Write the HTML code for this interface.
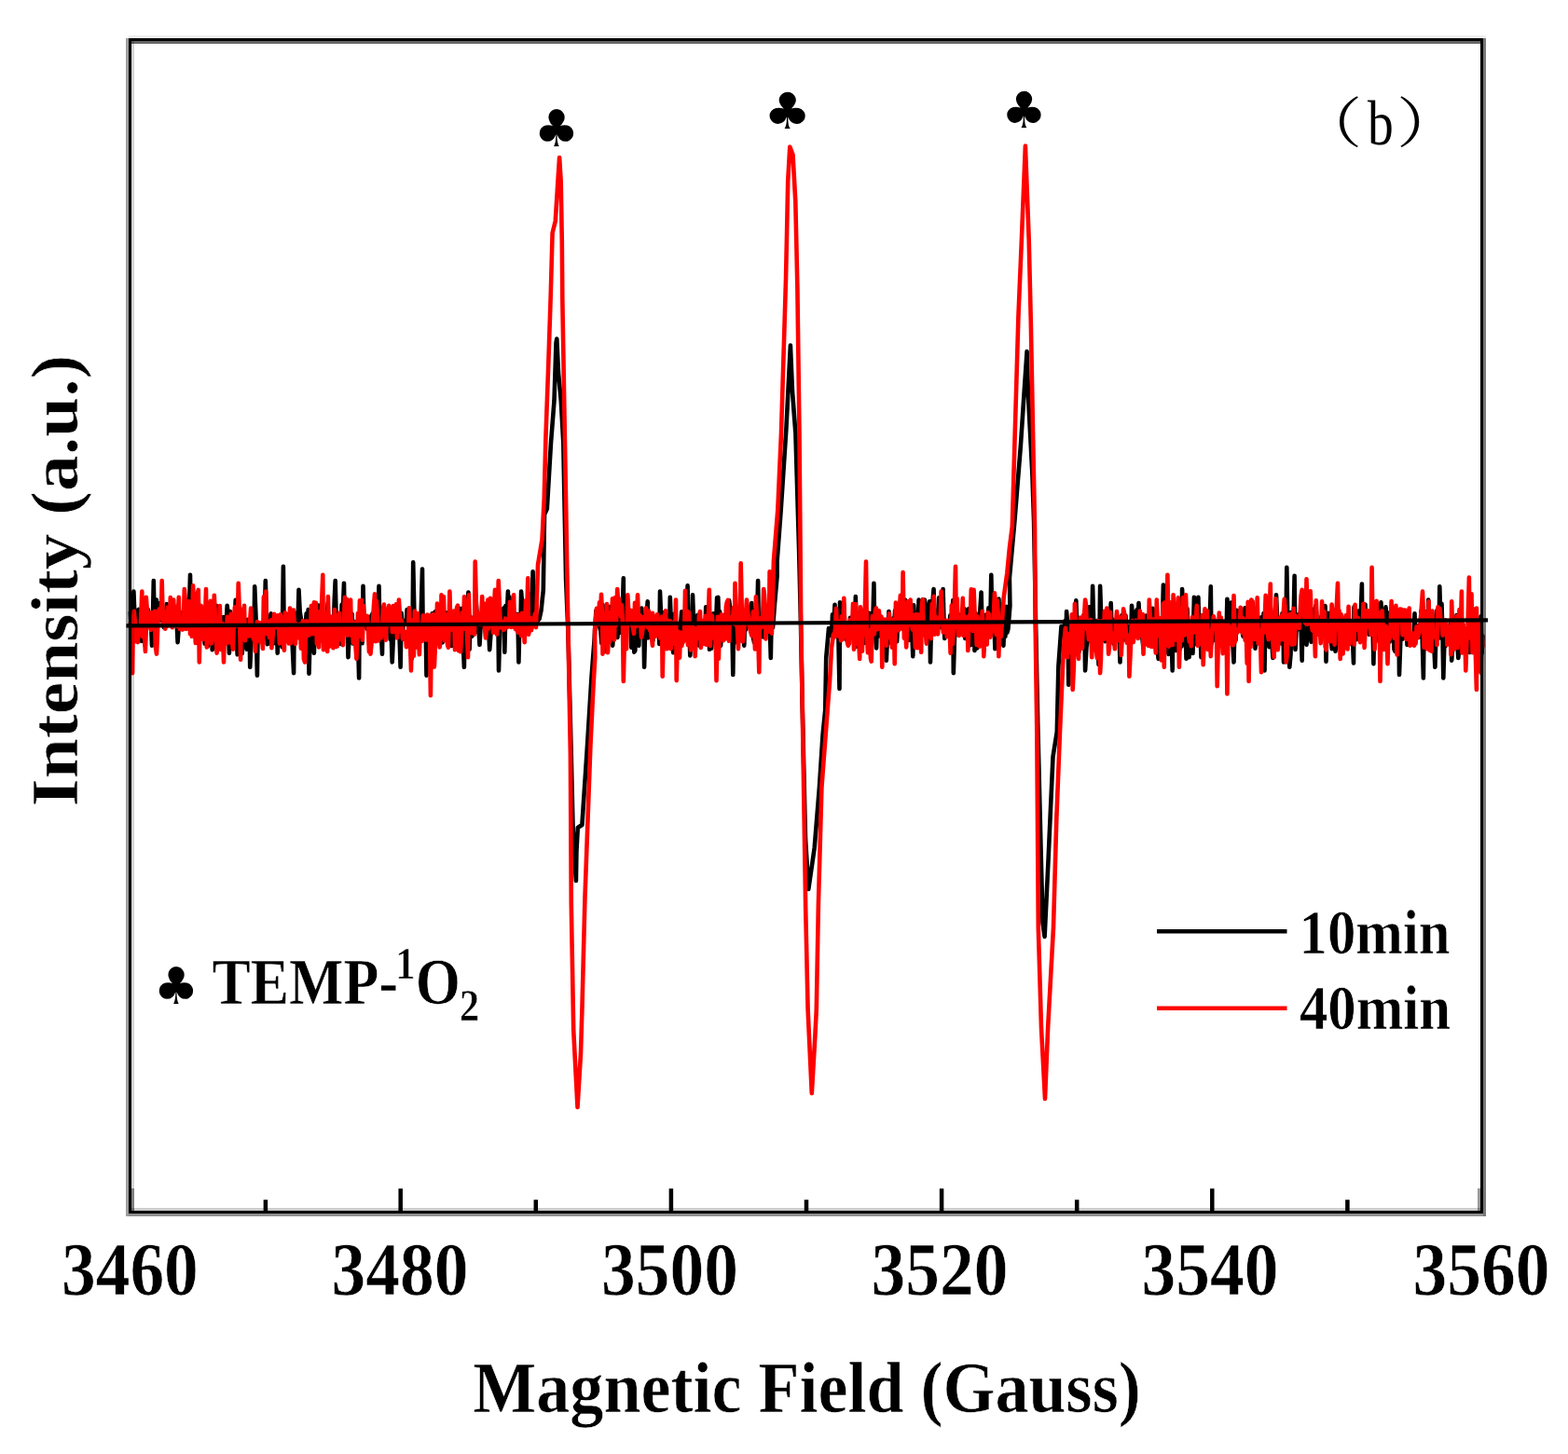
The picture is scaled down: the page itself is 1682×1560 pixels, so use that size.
<!DOCTYPE html>
<html lang="en">
<head>
<meta charset="utf-8">
<title>(b)</title>
<style>
html,body{margin:0;padding:0;background:#fff;overflow:hidden}
body{width:1682px;height:1560px}
svg{display:block}
text{font-family:"Liberation Serif",serif;font-weight:bold;fill:#000;stroke:#fff;stroke-width:0.6px}
.tk{font-size:80px;text-anchor:middle}
.sym{font-family:"DejaVu Sans","Liberation Serif",sans-serif;font-weight:normal;stroke:none}
.cjk{font-family:"Liberation Serif","Noto Serif CJK SC",serif;font-weight:normal;stroke:none}
.ax{stroke:#000;fill:none}
</style>
</head>
<body>
<svg width="1682" height="1560" viewBox="0 0 1682 1560">
<rect x="0" y="0" width="1682" height="1560" fill="#fff"/>
<!--CURVES-->
<g id="curves" fill="none" stroke-linejoin="round" stroke-linecap="butt">
<path id="c10" stroke="#000" stroke-width="4.6" d="M139.8,656.2 140.8,676.0 141.8,683.6 142.8,664.5 143.4,634.6 144.8,669.8 145.8,676.4 146.8,684.0 147.8,655.0 148.8,653.9 149.8,678.7 150.8,675.7 151.8,687.9 152.8,681.7 153.8,668.0 154.8,665.7 155.8,692.8 156.8,665.1 157.8,658.7 158.8,654.1 159.8,669.3 160.8,669.6 161.8,663.2 163.0,692.7 163.8,670.4 164.8,623.0 165.8,680.2 166.8,668.8 167.8,643.6 168.8,674.5 169.8,647.8 170.8,663.3 171.8,646.9 172.8,665.2 173.8,655.3 174.8,667.6 175.8,673.1 176.8,664.2 177.8,668.9 178.8,648.0 179.8,660.9 180.8,669.5 181.8,663.1 182.8,668.9 183.8,665.4 184.8,651.5 185.8,670.5 186.8,653.9 187.8,670.9 188.8,657.7 189.8,671.3 190.6,689.1 191.8,671.7 192.8,656.6 193.8,672.1 194.8,662.8 195.8,672.5 196.8,672.4 197.8,666.5 198.8,655.1 199.8,673.3 200.8,671.1 201.8,673.7 202.8,660.9 204.0,616.8 204.8,672.3 205.8,669.7 206.8,669.0 207.8,668.8 208.8,659.3 209.8,654.2 210.8,662.1 211.8,674.6 212.8,686.3 213.7,679.7 214.7,680.8 215.7,677.5 216.7,676.7 217.7,670.4 218.7,678.0 219.7,690.7 220.7,664.7 221.7,660.3 222.7,693.7 223.7,672.5 224.7,681.7 225.7,680.7 226.7,655.7 227.7,697.2 228.7,692.3 229.7,672.5 230.7,679.8 232.0,649.8 232.7,659.6 233.7,669.4 234.7,675.6 235.7,685.0 236.7,680.1 237.7,672.1 238.7,688.4 239.7,662.1 240.7,681.7 241.7,685.8 242.7,668.5 243.7,649.9 244.7,661.1 245.9,700.7 246.8,656.0 247.7,692.2 248.7,660.5 249.7,673.2 250.7,681.4 251.7,671.4 252.7,643.8 253.7,683.7 254.7,702.3 255.7,686.3 256.7,662.3 257.7,668.6 258.7,676.5 259.7,701.2 260.7,681.4 261.7,675.1 262.7,693.0 263.7,672.4 264.7,696.6 265.7,664.7 266.7,667.3 267.7,682.2 268.2,715.8 269.7,681.5 270.7,677.2 271.7,655.6 272.7,664.7 273.2,629.3 274.7,667.1 275.9,724.8 276.7,669.6 277.7,683.7 278.7,674.9 279.7,669.6 280.7,675.2 281.7,679.1 282.7,684.4 283.7,667.7 284.8,623.0 285.7,656.6 286.7,691.1 287.7,690.7 288.7,671.3 289.7,667.6 290.7,658.2 291.7,675.8 292.7,676.3 293.7,690.3 294.7,677.0 295.7,664.4 296.7,663.7 297.7,700.7 298.7,676.7 299.7,662.6 300.7,676.6 301.7,661.9 302.7,694.1 303.9,607.9 304.7,681.1 305.7,671.6 306.7,660.1 307.7,671.8 308.7,659.3 309.7,680.5 310.7,658.6 311.7,661.4 312.7,687.8 313.7,692.9 315.1,722.1 315.7,657.3 316.7,682.9 317.7,682.4 318.7,659.2 319.7,662.7 320.5,632.8 321.7,656.3 322.7,662.5 323.7,686.6 324.7,679.5 325.7,696.5 326.7,669.6 327.7,668.9 328.7,658.3 329.7,669.0 330.7,654.0 331.5,722.6 332.7,679.1 333.7,688.3 334.7,680.8 335.7,687.0 336.9,700.7 337.7,661.4 338.7,671.5 339.7,665.9 340.7,656.8 341.7,649.6 342.7,652.4 343.7,671.1 344.7,673.3 345.7,665.6 346.7,689.6 347.7,674.0 348.7,679.1 349.7,687.0 350.7,661.4 351.7,647.0 352.7,680.8 353.7,662.7 354.7,687.5 355.7,675.2 356.7,683.4 357.7,680.2 358.7,644.5 359.7,623.0 360.6,661.8 361.6,660.7 362.6,664.5 363.6,679.5 364.6,680.8 365.4,690.9 366.6,648.7 367.6,661.9 369.0,625.7 369.6,667.8 370.6,676.4 371.6,659.3 372.6,671.8 373.5,705.1 374.6,681.2 375.6,658.3 376.6,658.1 377.6,658.9 378.6,690.4 379.6,682.1 380.6,667.0 381.6,671.4 382.6,670.1 383.6,671.3 385.1,727.4 385.6,664.8 386.6,653.5 387.6,661.3 388.6,690.2 389.5,628.9 390.6,670.7 391.6,667.3 392.6,671.0 393.6,674.7 394.6,662.4 395.6,673.0 396.6,673.6 397.6,661.4 398.6,661.0 399.6,658.4 400.6,657.7 401.6,682.1 402.6,643.8 403.6,667.8 404.6,663.5 405.6,663.5 406.5,628.9 407.6,685.5 408.6,672.4 410.0,701.6 410.6,664.0 411.6,670.1 412.6,683.1 413.6,666.9 414.6,657.5 415.6,656.1 416.6,658.1 417.6,655.5 418.6,685.8 419.6,676.6 420.7,710.5 421.6,690.6 422.6,664.3 423.6,682.0 424.6,682.7 425.6,653.5 426.6,653.4 427.6,661.4 428.6,684.3 429.6,715.8 430.6,657.7 431.6,686.1 432.6,668.2 433.6,668.0 434.6,666.0 435.6,668.8 436.6,654.1 437.6,660.3 438.6,657.4 439.6,679.0 440.6,698.9 441.6,707.0 442.6,668.6 443.2,603.4 444.6,667.7 445.6,661.1 446.6,689.2 447.6,680.1 448.6,663.8 449.6,684.7 450.6,679.8 451.6,662.0 453.0,610.5 453.6,670.3 454.6,673.5 455.6,675.0 456.6,669.1 457.5,724.8 458.6,666.0 459.6,663.9 460.6,692.2 461.6,677.7 462.6,678.6 463.6,658.2 464.6,670.9 465.6,683.0 466.6,656.4 467.3,656.0 468.6,667.3 469.6,676.9 470.6,669.9 471.6,674.1 472.6,686.2 473.6,666.0 474.6,689.4 475.6,661.0 476.6,659.1 477.6,679.6 478.6,657.4 479.6,666.1 480.6,682.1 481.6,685.9 482.6,648.6 483.6,677.2 484.6,693.0 485.6,685.9 486.6,668.0 487.6,663.6 488.7,694.4 489.6,656.7 490.6,667.8 491.6,668.8 492.2,652.5 493.6,685.9 494.6,668.2 495.6,652.8 496.6,684.0 497.9,715.8 498.6,665.1 499.6,668.8 500.6,665.9 501.6,657.5 502.4,635.5 503.6,696.7 504.6,661.6 505.5,667.1 506.5,682.6 507.5,677.5 508.5,677.5 509.5,678.5 510.5,642.9 511.5,656.6 512.5,669.0 513.5,673.6 514.5,691.8 515.5,673.3 516.5,664.5 517.5,668.0 518.5,664.9 519.5,670.7 520.5,676.0 521.5,663.3 522.5,657.3 523.5,656.7 524.5,681.1 525.2,697.1 526.5,679.5 527.5,677.7 528.5,677.3 529.5,666.7 530.5,674.8 531.5,653.1 532.5,663.5 533.5,656.6 534.5,674.6 535.0,719.4 536.5,663.7 537.5,669.8 538.5,673.9 539.5,654.4 540.5,652.3 541.3,699.8 542.5,649.9 543.5,669.2 544.9,634.6 545.5,662.0 546.5,640.5 547.5,667.7 548.5,656.9 549.5,652.0 550.5,669.4 551.5,670.5 552.5,671.6 553.5,668.5 554.5,659.1 555.5,664.8 556.4,710.5 557.5,663.0 558.5,668.9 559.1,634.6 560.5,651.8 561.5,664.7 562.5,656.7 563.5,647.4 564.5,673.8 565.5,671.1 566.5,663.7 567.5,651.3 568.5,637.5 569.5,668.6 570.5,661.3 571.6,613.2 572.5,661.6 573.5,643.3 574.5,662.0 575.5,664.0 576.5,666.6 577.5,664.9 578.5,664.3 580.5,655.0 582.8,633.0 584.0,552.0 586.8,546.0 591.0,475.0 594.5,430.0 596.5,368.0 597.3,363.5 599.0,400.0 601.8,430.0 604.3,475.0 607.1,622.0 609.5,680.0 611.0,740.0 612.5,800.0 614.6,890.0 617.9,945.0 618.4,914.0 619.8,888.0 624.4,885.0 630.0,800.0 634.5,727.0 637.4,689.0 639.4,655.3 640.4,664.8 641.4,663.3 642.4,666.8 643.4,673.2 644.4,677.6 645.4,690.4 646.5,648.9 647.4,675.2 648.4,667.9 649.4,698.9 650.4,682.3 651.4,650.1 652.4,675.9 653.4,664.5 654.4,683.6 655.4,650.7 656.4,670.1 657.2,692.7 658.4,670.2 659.4,664.1 660.4,648.5 661.4,677.2 662.4,683.9 663.3,670.6 664.3,658.8 665.3,674.1 666.3,678.7 667.3,669.5 668.8,620.4 669.3,689.5 670.3,658.0 671.3,665.1 672.3,648.3 673.3,663.4 674.3,663.0 675.3,660.3 676.3,663.6 677.3,694.7 678.3,669.8 679.3,670.8 680.3,699.7 681.3,698.0 682.3,650.5 683.3,677.3 684.3,660.6 685.3,692.8 686.3,656.9 687.3,665.2 688.3,652.5 689.3,673.8 690.3,659.9 691.1,715.8 692.3,668.0 693.3,665.1 694.7,645.3 695.3,684.4 696.3,673.5 697.3,661.5 698.3,661.7 699.3,676.2 700.3,687.4 701.3,667.2 702.3,663.1 703.3,664.2 704.3,660.9 705.3,660.8 706.3,670.4 707.3,690.9 708.0,634.6 709.3,666.6 710.3,656.8 711.2,675.7 712.2,672.7 713.2,657.8 714.2,659.5 715.2,672.5 716.2,685.7 717.2,680.8 718.2,675.5 718.8,640.9 720.2,676.9 721.2,672.8 722.2,700.1 723.2,658.9 724.2,668.5 725.2,689.0 726.2,669.9 727.2,691.1 728.2,672.8 729.2,675.3 730.2,668.9 731.2,656.2 732.2,661.3 733.2,688.1 734.2,681.4 735.2,680.8 736.2,685.0 737.6,628.4 738.2,685.8 739.2,669.7 740.3,703.4 741.2,685.5 742.2,668.8 743.0,638.2 744.2,670.6 745.2,666.6 746.2,681.2 747.2,664.5 748.2,660.2 749.2,669.3 750.2,692.7 751.2,672.6 752.2,675.0 753.2,672.9 754.2,676.2 755.2,683.9 756.2,687.8 757.2,651.4 758.1,685.8 759.1,671.7 760.1,667.7 761.1,696.8 762.1,669.5 763.1,695.8 764.1,683.4 765.1,658.3 766.1,677.0 767.1,679.9 768.1,668.9 769.1,641.2 770.3,640.9 771.1,667.6 772.1,656.1 773.1,692.7 774.1,666.7 775.1,664.9 776.1,666.0 777.1,660.0 778.1,660.1 779.1,671.0 780.1,673.7 781.1,663.4 782.2,644.4 783.1,652.3 784.1,676.1 785.1,660.0 786.3,723.9 787.1,657.8 788.1,662.5 789.1,671.5 790.1,653.5 791.1,689.7 792.1,667.9 793.1,667.4 794.1,659.0 795.1,687.2 796.1,685.3 797.1,671.7 798.3,692.7 799.1,661.6 800.1,675.6 801.1,661.5 802.1,653.1 803.1,653.1 804.1,658.2 805.1,668.0 806.3,647.1 807.0,667.9 808.0,684.4 809.0,689.3 810.0,654.3 811.0,671.5 812.0,668.2 813.1,623.0 814.0,680.1 815.0,663.0 816.0,663.1 817.0,662.6 818.0,666.1 819.0,683.5 820.0,677.2 821.0,650.7 822.0,662.0 823.0,657.6 824.0,677.7 825.0,670.4 826.0,678.7 826.8,706.0 828.0,643.7 829.0,673.3 831.0,648.0 833.6,618.0 833.6,602.0 837.7,547.0 843.4,460.0 847.9,370.5 850.0,420.0 853.4,465.0 857.1,590.0 858.9,665.0 860.8,760.0 864.0,900.0 867.3,954.0 873.7,909.5 878.9,845.0 882.6,788.0 885.2,762.0 886.2,706.0 889.0,674.0 891.0,678.7 892.0,682.1 893.0,659.4 894.0,676.6 895.5,648.9 896.0,666.8 897.0,679.7 898.0,679.7 899.0,664.1 900.5,739.0 901.0,646.2 902.0,668.1 903.0,686.1 904.0,674.7 905.0,647.7 906.0,664.8 907.0,681.0 908.0,686.5 909.0,686.6 910.0,680.5 911.0,678.4 912.0,662.8 913.0,670.4 914.0,671.9 915.1,666.4 916.1,676.8 917.1,671.1 917.8,640.0 919.1,693.8 920.1,685.0 921.1,680.9 922.1,672.5 923.1,656.3 924.1,673.7 925.1,681.7 926.1,662.0 927.1,690.0 928.1,669.9 929.1,678.4 930.1,669.3 931.1,657.4 932.1,698.7 933.1,658.0 934.1,683.8 935.1,665.1 936.1,675.3 937.4,625.7 938.1,666.2 939.1,682.7 940.1,695.4 941.1,660.3 942.1,670.8 943.1,682.4 944.1,662.6 945.1,679.2 946.1,666.0 947.1,677.8 948.1,675.7 949.1,685.4 950.1,674.8 950.8,708.7 952.1,678.7 953.5,656.0 954.1,679.9 955.1,689.4 956.1,678.0 957.1,663.7 958.1,685.5 959.1,672.7 960.1,655.0 961.1,666.1 962.1,688.3 963.2,666.7 964.2,672.0 965.2,666.1 966.2,649.3 967.2,663.9 968.2,674.8 969.2,672.9 970.2,668.2 971.2,643.8 972.2,685.8 973.2,679.5 974.2,683.3 975.2,686.8 976.2,665.0 977.2,663.0 978.2,674.4 979.3,704.2 980.2,649.3 981.2,667.4 982.2,661.2 983.2,677.0 984.2,688.2 985.6,643.5 986.2,653.9 987.2,669.8 988.2,665.5 989.2,649.6 990.2,679.8 991.2,662.0 991.8,643.5 993.2,651.9 994.2,682.0 995.2,650.2 996.2,681.3 997.2,645.4 998.0,710.5 999.2,663.3 1000.2,648.4 1001.6,632.0 1002.2,672.0 1003.2,655.4 1004.2,661.5 1005.2,671.1 1006.2,665.6 1007.2,641.3 1008.2,662.5 1009.2,673.3 1010.3,671.8 1011.6,632.0 1012.3,659.6 1013.3,685.0 1014.3,678.3 1015.3,672.3 1016.3,681.9 1017.3,680.2 1018.3,669.5 1019.3,660.4 1020.3,680.8 1021.3,673.2 1022.3,644.1 1022.8,722.1 1024.3,673.4 1025.3,668.8 1026.3,670.8 1027.3,675.2 1028.3,668.9 1029.3,677.2 1030.3,659.5 1031.3,661.8 1032.3,670.7 1033.3,675.9 1034.8,653.4 1035.3,685.0 1036.3,660.4 1037.3,680.8 1038.3,672.0 1039.3,653.1 1040.3,664.3 1041.3,692.1 1042.3,675.9 1043.3,660.3 1044.3,638.5 1045.5,698.0 1046.3,657.6 1047.3,667.5 1048.3,695.5 1049.3,676.1 1050.3,670.8 1051.3,655.3 1052.6,635.5 1053.3,664.6 1054.3,661.4 1055.3,698.1 1056.3,662.4 1057.3,659.9 1058.4,681.8 1059.4,668.7 1060.4,652.4 1061.4,680.8 1062.4,664.2 1063.3,616.8 1064.4,672.3 1065.4,674.5 1066.4,664.4 1067.4,696.2 1068.4,679.1 1069.4,657.9 1070.4,643.3 1071.4,642.7 1072.4,667.6 1073.4,684.7 1074.4,681.9 1075.4,686.8 1076.4,692.7 1077.4,669.8 1078.4,682.9 1079.4,650.7 1080.4,678.6 1081.4,675.0 1083.4,650.0 1082.9,620.0 1088.3,560.0 1094.9,478.0 1098.7,420.0 1101.6,377.0 1103.0,425.0 1107.4,509.0 1109.1,560.0 1111.0,665.0 1113.3,780.0 1118.5,990.0 1120.6,1005.0 1124.6,921.0 1129.5,812.0 1133.8,785.0 1135.4,715.0 1138.5,672.0 1140.5,678.9 1141.5,674.6 1142.5,666.1 1143.5,681.8 1144.1,656.0 1145.5,675.4 1146.3,734.6 1147.5,671.6 1148.5,683.0 1149.5,667.1 1150.5,684.4 1151.5,676.9 1152.5,683.5 1153.5,671.9 1154.3,644.4 1155.5,675.3 1156.5,692.4 1157.5,699.1 1158.5,675.3 1159.5,689.3 1160.5,688.8 1161.5,684.2 1162.5,659.9 1163.5,683.3 1164.1,719.4 1165.5,693.9 1166.5,689.0 1167.5,686.9 1168.5,651.2 1169.5,686.9 1170.5,687.8 1171.5,663.1 1172.1,628.9 1173.5,679.9 1174.5,676.6 1175.5,669.9 1176.5,666.0 1177.5,673.2 1178.5,713.0 1179.5,680.9 1180.1,628.9 1181.5,670.0 1182.5,670.2 1183.5,670.8 1184.5,666.4 1185.5,688.2 1186.5,673.7 1187.5,687.6 1188.5,662.2 1189.5,688.0 1190.5,675.8 1191.7,647.1 1192.5,674.5 1193.5,664.6 1194.5,690.7 1195.5,670.0 1196.5,673.6 1197.5,664.3 1198.5,677.9 1199.5,670.5 1200.5,678.8 1201.5,710.5 1202.5,666.6 1203.5,660.0 1204.5,680.5 1205.5,686.4 1206.5,683.6 1207.5,660.5 1208.5,682.4 1209.5,679.6 1210.5,678.3 1211.5,680.1 1212.5,670.7 1213.5,677.4 1214.0,649.8 1215.5,668.5 1216.5,656.8 1217.5,673.5 1218.5,677.4 1219.5,654.2 1220.5,666.5 1221.5,647.1 1222.5,673.1 1223.5,676.2 1224.5,659.3 1225.5,686.3 1226.5,695.6 1227.5,672.5 1228.5,665.9 1229.5,660.5 1230.5,686.1 1231.5,676.3 1232.5,665.0 1233.5,688.9 1234.5,684.4 1235.5,682.3 1236.5,652.7 1237.5,673.3 1238.5,682.3 1239.5,659.1 1240.5,686.0 1241.5,692.2 1242.6,706.9 1243.5,665.1 1244.5,665.2 1245.5,685.8 1246.5,686.4 1247.9,627.5 1248.5,688.9 1249.5,672.5 1250.5,668.6 1251.5,650.5 1252.5,683.4 1253.5,702.0 1254.5,667.7 1255.5,667.4 1256.5,681.4 1257.7,719.4 1258.5,655.8 1259.5,663.9 1260.5,659.0 1261.5,698.0 1262.5,663.7 1263.5,683.4 1264.5,696.7 1265.5,696.5 1266.5,690.8 1267.5,693.5 1268.1,632.0 1269.5,669.1 1270.5,664.4 1271.5,670.1 1272.5,706.6 1273.5,653.0 1274.5,681.2 1275.6,705.1 1276.5,691.3 1277.5,691.0 1278.5,668.5 1279.5,700.9 1280.9,640.9 1281.5,691.4 1282.5,679.0 1283.5,668.2 1284.5,670.5 1285.4,640.9 1286.5,683.1 1287.5,677.0 1288.5,705.1 1289.5,673.3 1290.5,670.1 1291.5,667.1 1292.5,666.6 1293.5,658.9 1294.5,664.5 1295.5,688.3 1296.5,677.9 1297.5,675.1 1298.8,629.3 1299.5,690.8 1300.5,685.3 1301.5,687.3 1302.5,670.8 1303.5,674.6 1304.5,668.3 1305.5,676.9 1306.5,668.0 1307.5,673.8 1308.5,676.4 1309.5,676.1 1310.5,675.6 1311.5,673.0 1312.5,695.7 1313.5,675.2 1314.5,667.0 1315.5,682.2 1316.4,642.7 1317.5,666.6 1318.5,681.1 1319.5,659.3 1320.5,646.5 1321.5,683.7 1322.5,692.9 1323.5,710.5 1324.5,668.6 1325.5,687.0 1326.5,654.8 1327.5,668.7 1328.5,664.5 1329.5,677.0 1330.5,654.7 1331.6,659.6 1332.5,677.3 1333.5,682.7 1334.5,674.7 1335.5,652.2 1336.5,676.7 1337.5,661.8 1338.5,678.6 1339.5,667.7 1340.5,674.3 1341.5,675.6 1342.5,687.8 1343.5,687.6 1344.5,665.3 1345.5,677.4 1346.5,695.7 1347.5,683.4 1348.5,667.9 1349.5,675.3 1350.5,672.2 1351.5,688.1 1353.0,662.3 1353.5,680.5 1354.5,703.2 1355.5,658.1 1356.5,719.4 1357.5,653.1 1358.5,654.6 1359.5,685.0 1360.5,677.7 1361.5,694.2 1362.5,649.0 1363.5,662.6 1364.5,691.5 1365.5,706.0 1366.5,684.4 1367.5,684.1 1368.5,673.5 1369.0,638.2 1370.5,673.2 1371.5,683.2 1372.5,670.5 1373.5,676.4 1374.5,690.4 1375.5,658.0 1376.5,662.6 1377.0,710.5 1378.5,668.4 1379.5,669.6 1380.3,608.8 1381.5,676.5 1382.5,666.0 1383.3,715.8 1384.5,702.4 1385.5,656.9 1386.5,662.2 1387.5,671.8 1388.6,617.7 1389.5,697.0 1390.5,676.2 1391.5,664.4 1392.5,675.2 1393.5,658.9 1394.5,661.0 1395.5,669.7 1396.7,708.7 1397.5,639.9 1398.5,673.2 1399.5,684.7 1400.5,677.1 1401.5,691.8 1402.0,683.7 1403.5,669.7 1404.5,666.4 1405.5,657.4 1406.5,688.7 1407.5,653.5 1408.5,666.9 1409.5,662.0 1410.5,658.8 1411.5,649.7 1412.5,664.0 1413.5,670.6 1414.5,670.8 1415.5,679.7 1416.5,667.1 1417.5,661.2 1418.5,673.0 1419.5,677.5 1420.5,657.9 1421.5,650.1 1422.5,709.6 1423.8,662.3 1424.5,681.5 1425.5,657.9 1426.5,670.3 1427.5,679.3 1428.8,696.2 1429.5,660.5 1430.5,665.7 1431.5,686.2 1432.5,698.7 1433.5,687.7 1434.5,654.4 1435.5,674.3 1436.5,665.0 1437.5,668.2 1438.5,660.8 1439.5,663.3 1440.5,669.3 1441.5,692.2 1442.5,678.7 1443.5,675.5 1444.5,670.7 1445.5,661.1 1446.5,667.8 1447.5,686.3 1448.5,681.3 1449.5,691.1 1450.5,674.5 1452.0,711.4 1452.5,651.2 1453.5,676.6 1454.3,654.2 1455.5,686.1 1456.5,664.0 1457.5,672.0 1458.5,655.2 1459.5,666.0 1460.9,626.6 1461.5,686.5 1462.5,675.6 1463.5,657.8 1464.5,648.5 1465.5,671.9 1466.5,666.8 1467.5,659.2 1468.5,680.6 1469.5,671.0 1470.5,674.9 1471.5,666.2 1472.5,666.6 1473.4,712.3 1474.5,653.9 1475.5,681.8 1476.5,679.0 1477.5,652.5 1478.5,675.3 1479.5,688.5 1480.5,677.0 1481.4,646.2 1482.5,670.8 1483.5,674.2 1484.5,657.9 1485.5,662.8 1486.5,651.4 1487.5,663.0 1488.5,677.3 1489.4,657.8 1490.5,688.8 1491.5,675.9 1492.5,661.9 1493.5,679.6 1494.5,672.4 1495.5,696.6 1496.5,698.8 1497.5,686.4 1498.5,660.2 1499.5,668.0 1500.5,677.1 1501.0,723.9 1502.5,681.6 1503.5,683.8 1504.5,685.8 1505.5,678.4 1506.5,664.7 1507.5,665.4 1508.5,674.6 1509.5,691.8 1510.5,691.2 1511.5,689.0 1512.5,681.5 1513.5,685.5 1514.5,687.5 1515.5,687.7 1516.5,687.0 1517.5,658.2 1518.5,687.3 1519.5,682.2 1520.5,671.5 1521.5,683.7 1522.5,680.6 1523.5,676.2 1524.5,655.6 1525.5,678.0 1526.9,727.4 1527.5,675.7 1528.5,656.4 1529.5,681.8 1530.5,685.0 1531.5,678.1 1532.2,643.5 1533.5,671.2 1534.5,667.3 1535.5,681.9 1536.5,670.8 1537.5,677.5 1538.5,697.0 1539.4,715.8 1540.5,676.8 1541.5,654.8 1542.5,676.4 1543.5,684.7 1544.3,629.3 1545.5,672.5 1546.5,647.7 1547.5,682.7 1548.3,727.4 1549.5,684.6 1550.5,693.3 1551.5,674.4 1552.5,688.9 1553.5,679.9 1554.5,674.4 1555.5,673.7 1556.5,666.8 1557.2,708.7 1558.5,688.9 1559.5,665.6 1560.5,689.0 1561.5,669.5 1562.5,660.1 1563.5,694.1 1564.3,706.0 1565.5,694.3 1566.5,682.1 1567.5,691.0 1568.5,686.3 1569.5,694.5 1570.5,684.5 1571.5,687.6 1572.5,683.6 1573.5,694.3 1574.5,675.8 1575.5,693.6 1576.5,699.9 1577.5,680.4 1578.5,686.9 1579.5,675.2 1580.5,678.2 1581.5,685.3 1582.5,677.9 1583.5,671.3 1584.5,682.2 1585.5,685.2 1586.5,687.0 1587.5,692.0 1588.5,661.2 1589.5,701.1 1590.5,681.5"/>
<path id="c40" stroke="#f00" stroke-width="4.6" d="M139.8,667.4 140.8,679.5 142.1,722.1 142.8,665.9 143.8,655.9 144.8,667.2 145.8,688.2 146.8,677.1 147.8,689.1 148.8,674.0 149.8,676.2 150.8,672.7 152.3,634.6 152.8,683.1 153.8,677.4 154.8,677.1 155.9,698.9 156.8,640.8 157.8,654.3 158.8,660.8 159.8,672.9 160.8,667.1 161.8,675.9 162.8,657.0 163.8,671.9 164.8,673.0 165.8,655.9 166.8,693.7 168.0,701.6 168.8,684.9 169.8,655.7 170.8,653.6 171.8,659.8 172.8,663.5 173.7,623.0 174.8,668.9 175.8,657.7 177.3,674.8 177.8,656.3 178.8,672.1 179.8,651.6 180.8,668.3 181.8,671.1 182.8,641.0 183.8,664.9 184.8,673.3 186.2,643.5 186.8,658.9 187.8,662.3 188.8,650.9 189.8,672.0 190.8,663.1 191.8,640.9 192.8,674.9 193.8,674.9 194.8,675.3 195.8,675.5 196.8,670.4 197.8,632.0 198.8,644.1 199.8,674.9 200.8,655.4 201.8,658.2 202.8,645.4 204.0,680.2 204.8,657.5 205.8,682.8 207.1,628.4 207.8,643.3 208.8,670.6 209.8,690.0 210.8,676.3 211.8,636.8 212.8,632.9 213.8,710.5 214.8,655.9 215.8,649.9 216.8,683.6 217.8,685.8 218.8,670.9 219.8,672.5 221.0,632.0 221.8,694.5 222.8,679.1 223.8,677.7 224.8,678.4 225.8,644.7 226.8,690.4 227.8,685.3 228.8,678.6 229.8,638.7 230.8,660.3 231.8,684.0 232.6,700.7 233.8,667.8 234.8,687.2 235.8,650.1 236.8,697.0 237.8,680.2 238.8,669.1 240.0,710.5 240.8,682.2 241.8,673.9 242.8,690.5 243.8,661.7 244.8,665.8 245.8,689.3 246.8,673.2 247.8,658.8 248.9,688.2 249.9,696.6 250.9,666.1 251.9,651.3 252.9,671.3 253.9,671.2 254.9,668.9 255.7,625.7 256.9,657.3 258.1,707.8 258.9,653.5 259.9,661.2 260.9,683.8 262.0,649.8 262.9,687.3 263.9,678.9 264.9,675.6 265.9,675.7 266.9,682.4 267.9,670.4 269.1,652.5 269.9,682.5 270.9,673.4 271.9,685.7 272.9,682.7 273.9,698.9 274.9,678.9 275.9,667.0 276.9,667.9 277.9,673.6 278.9,688.6 279.9,668.4 280.9,679.9 281.9,695.9 282.9,640.2 283.9,655.7 285.2,634.6 285.9,680.0 286.9,677.4 287.9,666.7 288.9,684.0 289.9,678.1 290.9,665.3 291.4,695.3 292.9,679.5 294.1,658.7 294.9,672.4 295.9,670.5 296.9,673.2 297.9,660.3 298.9,666.6 299.9,690.5 300.9,659.2 301.9,673.2 302.9,689.4 303.9,687.7 304.9,697.8 305.9,657.4 306.9,667.9 307.9,667.9 308.9,683.2 309.9,690.5 311.0,652.5 311.9,690.1 312.9,655.0 313.9,683.3 314.9,654.5 315.9,674.8 316.9,691.0 317.9,669.3 318.9,674.6 319.9,684.1 320.9,673.5 321.9,669.7 322.9,695.6 323.9,687.7 324.9,666.1 325.9,707.0 327.1,710.5 327.9,685.3 328.9,666.3 329.9,672.6 330.9,681.7 331.9,674.0 332.9,680.6 333.9,649.9 334.9,649.7 335.9,680.1 336.9,646.2 337.9,654.0 338.9,646.9 339.9,690.8 340.9,682.6 341.9,694.4 342.9,656.0 343.9,671.2 344.9,653.2 346.3,616.8 346.9,697.1 347.9,657.5 348.9,696.8 349.9,687.6 351.2,698.9 351.9,640.0 352.9,693.9 353.9,669.7 354.9,661.5 355.9,677.3 356.9,677.3 357.4,695.3 358.9,654.1 359.9,688.5 360.9,693.9 361.9,693.3 362.9,667.1 363.9,657.9 364.9,686.0 365.9,671.4 366.9,671.4 367.9,692.1 368.9,664.9 369.9,640.9 370.9,662.7 371.9,642.7 372.9,681.8 373.9,673.7 374.9,658.8 376.1,643.5 376.9,681.8 377.9,669.7 378.9,689.7 379.9,667.5 380.9,685.2 382.4,706.9 382.9,694.4 383.9,658.0 384.9,683.0 385.9,644.2 386.9,651.9 387.9,643.7 388.9,686.7 389.9,650.0 390.9,669.7 391.9,667.0 392.9,669.8 393.9,660.9 394.9,674.2 395.9,699.1 396.9,671.4 397.5,701.6 398.9,686.9 399.9,667.7 400.9,650.8 402.0,637.3 402.9,688.2 403.9,644.8 404.9,661.6 405.9,687.4 406.9,684.0 407.9,671.5 408.9,684.4 409.9,674.2 410.9,652.8 411.9,648.5 412.9,661.5 413.9,686.6 414.9,662.8 415.9,657.5 417.2,649.8 417.9,652.3 418.9,670.2 419.9,653.3 420.9,678.1 421.9,650.0 422.9,677.8 423.9,662.4 424.9,648.3 425.9,684.4 426.9,668.5 427.9,643.5 428.9,659.0 429.9,677.7 430.9,665.7 431.9,685.5 432.9,684.9 433.9,683.6 434.9,678.1 435.9,694.2 436.9,683.4 437.9,680.1 438.9,652.4 439.9,687.2 441.0,719.4 441.9,668.1 442.9,665.3 443.9,703.7 444.9,655.5 445.9,680.4 446.8,694.4 447.9,658.1 448.9,684.0 449.9,702.3 450.9,671.2 451.9,682.1 452.9,687.7 453.9,660.3 454.9,671.9 455.9,678.0 456.9,686.6 458.3,659.6 458.9,670.2 459.9,660.3 460.9,667.5 461.9,746.2 462.9,674.8 463.9,659.4 464.9,659.4 465.9,715.4 467.0,690.8 468.0,682.5 469.0,647.6 470.0,681.7 471.0,679.2 471.7,694.4 473.0,678.0 473.5,638.2 475.0,679.2 476.0,640.2 477.0,687.3 478.0,675.9 479.0,659.5 480.0,691.9 481.0,694.7 482.4,634.6 483.0,660.2 484.0,675.6 485.0,673.9 486.0,664.6 487.0,655.5 488.0,697.2 489.0,687.7 490.0,652.0 491.0,649.6 492.0,698.3 493.0,686.9 494.0,699.3 495.0,684.0 496.0,657.0 497.0,675.0 498.0,640.3 499.0,658.6 500.0,669.4 501.0,678.5 502.0,705.1 502.9,638.2 504.0,676.6 505.0,675.0 506.0,678.9 507.0,671.7 508.0,662.9 509.0,680.4 509.7,602.5 511.0,654.2 512.0,657.4 513.0,667.3 514.0,665.6 515.0,669.9 516.0,667.4 517.2,640.0 518.0,665.4 519.0,647.4 520.0,674.3 521.0,684.4 522.0,674.5 523.4,643.5 524.0,674.5 525.0,651.9 526.0,641.9 527.0,668.0 528.0,652.1 529.0,678.6 530.0,649.3 531.0,632.8 532.0,649.5 533.0,680.7 534.0,659.6 534.7,623.0 536.0,653.0 537.0,673.3 538.0,672.6 539.0,667.3 540.0,675.9 541.0,675.2 542.0,663.5 543.0,673.2 544.0,673.1 545.0,672.4 546.0,671.7 547.0,645.9 548.4,673.0 549.0,670.7 550.0,658.5 551.1,638.2 552.0,672.9 553.0,675.2 554.0,660.0 555.0,677.4 556.0,678.6 557.0,659.9 558.0,664.8 559.0,681.9 560.0,657.7 561.0,677.1 562.0,678.7 562.7,689.1 564.0,644.2 565.0,665.8 566.3,620.4 567.0,680.8 568.0,675.2 569.0,663.0 570.0,676.2 571.0,671.1 572.0,665.7 573.0,663.2 574.0,658.4 575.0,673.2 577.0,606.0 581.5,579.0 583.7,535.0 585.4,470.0 588.3,390.0 590.8,315.0 592.6,250.0 595.8,237.0 598.4,195.0 600.1,169.0 601.7,195.0 602.8,259.0 603.3,320.0 606.0,475.0 608.8,640.0 611.9,810.0 612.8,970.0 615.2,1105.0 619.5,1188.0 623.0,1130.0 624.5,1080.0 627.4,965.0 633.4,800.0 636.4,738.0 638.3,705.0 638.0,676.0 640.0,652.7 641.0,659.6 642.0,669.8 643.0,646.4 644.0,662.9 645.0,637.8 646.0,659.1 646.5,701.6 648.0,679.4 649.0,669.6 650.0,666.9 651.0,648.1 652.0,700.1 653.0,679.3 654.0,688.6 655.0,657.1 656.0,668.3 657.0,642.2 658.0,683.9 659.0,686.4 660.0,641.1 661.0,670.6 662.2,632.0 663.0,643.3 664.0,642.3 665.0,654.5 666.0,661.5 667.0,649.2 668.0,672.2 668.8,731.0 670.0,682.0 671.0,683.2 672.0,696.1 673.3,638.2 674.0,651.2 675.0,664.2 676.0,655.3 677.0,655.1 678.0,671.0 679.0,672.3 680.0,680.0 681.0,646.8 682.0,652.4 683.0,671.8 684.0,638.2 685.0,667.3 686.0,671.4 687.0,660.3 688.0,683.7 689.0,678.2 690.0,671.2 691.0,661.9 692.0,669.9 693.0,652.2 694.0,657.0 695.0,673.3 696.0,655.9 697.0,676.0 698.0,675.1 700.0,692.7 700.0,657.8 701.0,667.8 702.0,680.2 703.0,682.7 704.0,672.4 705.0,659.3 706.0,670.7 707.0,672.0 708.0,684.8 709.0,677.7 710.0,661.5 710.7,725.6 712.0,667.1 713.0,661.2 714.0,655.3 715.4,696.2 716.0,665.2 717.0,674.7 718.0,681.4 719.0,666.3 719.6,696.2 721.0,667.8 722.0,690.6 723.0,675.0 724.0,690.9 725.0,643.6 725.7,730.1 727.0,677.2 728.0,683.0 729.0,705.7 730.0,678.6 731.4,692.7 732.0,685.7 733.0,688.6 734.0,681.5 735.0,633.7 735.9,681.3 736.9,655.8 737.9,691.9 738.9,656.8 739.9,677.1 740.9,697.4 741.9,669.7 742.9,673.6 743.9,692.0 744.9,673.9 745.7,704.2 746.9,677.6 747.9,682.8 748.9,684.8 749.9,661.0 751.0,656.0 751.9,695.0 752.9,673.1 753.9,676.9 754.9,665.5 755.9,691.0 756.9,660.7 758.2,691.8 758.9,664.1 759.9,660.6 760.8,632.8 761.9,693.0 762.9,671.3 763.9,660.5 764.9,684.2 765.9,670.2 766.9,675.7 767.9,694.9 768.5,730.1 769.9,661.9 770.9,706.6 771.9,670.0 772.9,682.4 773.9,659.4 774.9,669.1 776.0,687.3 776.9,684.8 777.9,685.4 778.9,650.4 779.9,645.7 780.9,643.8 781.9,687.6 782.9,662.3 783.9,668.6 784.9,664.4 785.9,667.4 786.9,651.7 787.9,669.4 788.5,625.7 789.9,667.6 790.9,673.5 792.0,696.2 792.9,664.6 793.9,653.7 794.7,604.3 795.9,660.3 796.9,688.3 797.9,680.2 798.9,666.1 799.9,660.4 801.0,643.5 801.9,653.0 802.9,662.3 803.9,672.6 804.9,676.1 806.3,681.9 806.9,681.9 807.9,656.3 808.9,667.6 809.9,696.5 810.9,640.2 811.9,658.8 812.9,669.8 814.3,721.2 814.9,673.6 815.9,663.4 816.9,673.1 817.9,668.2 819.2,632.0 819.9,637.2 820.9,653.3 821.5,685.5 822.9,651.0 823.9,650.8 824.9,677.6 825.6,613.2 826.9,677.7 827.9,679.5 829.9,602.0 834.3,547.0 838.0,465.0 843.0,300.0 844.1,249.0 845.2,195.0 847.3,157.5 850.5,166.0 853.3,216.0 855.4,310.0 857.5,465.0 858.4,570.0 859.2,668.0 861.0,775.0 864.2,975.0 866.6,1083.0 870.8,1173.0 874.4,1111.0 875.8,1083.0 877.9,970.0 881.4,845.0 887.8,760.0 890.1,730.0 892.0,695.0 894.0,680.5 895.0,683.6 896.0,673.7 897.0,652.8 898.0,674.8 899.0,682.5 900.0,666.8 901.0,673.7 902.0,687.3 903.0,661.3 904.0,685.7 905.3,641.8 906.0,666.7 907.0,678.0 908.0,673.4 909.0,689.6 909.8,692.7 911.0,690.3 912.0,665.0 913.0,675.8 914.0,675.9 915.0,647.7 916.0,696.7 917.0,690.4 918.0,648.0 919.0,687.8 920.0,673.7 921.0,682.8 922.2,706.9 923.0,651.4 924.0,671.7 924.9,698.8 925.9,665.5 926.9,658.0 927.9,652.3 929.0,602.5 929.9,678.8 930.9,700.2 931.9,679.7 932.9,676.5 933.9,706.4 934.7,709.6 935.9,661.1 936.9,680.1 937.9,680.2 938.9,655.0 939.9,652.4 940.9,675.5 941.9,674.7 942.9,655.4 943.9,667.2 945.4,661.4 946.3,715.8 946.9,668.4 947.9,668.8 948.9,664.5 949.9,687.1 950.9,692.5 951.9,664.5 952.9,683.9 953.9,658.3 954.9,671.7 955.9,682.5 956.9,694.8 957.9,664.5 958.9,669.4 959.7,712.3 960.9,646.6 961.9,670.8 962.9,659.7 963.9,676.4 964.9,652.3 965.9,638.7 966.9,670.9 967.9,674.5 968.6,614.1 969.9,684.6 970.9,666.1 972.2,694.4 972.9,678.2 973.9,645.4 974.9,659.7 975.9,670.2 976.6,643.5 977.9,667.9 978.9,675.4 979.9,659.9 980.9,675.2 981.9,694.7 982.9,659.1 983.9,695.3 984.8,659.4 985.8,669.8 986.8,672.1 988.2,699.8 988.8,649.1 989.8,643.0 990.8,678.3 991.8,681.2 992.8,678.4 993.8,690.6 994.8,671.5 995.8,672.2 996.8,683.0 997.8,673.9 998.8,685.1 999.8,648.1 1000.8,661.8 1001.8,639.7 1002.8,680.7 1003.8,661.8 1004.8,678.6 1006.1,680.2 1006.8,667.7 1007.8,663.7 1008.8,659.9 1009.6,634.6 1010.8,658.0 1011.8,678.4 1012.8,668.9 1013.8,669.4 1014.8,665.6 1015.8,683.0 1016.8,676.2 1017.8,666.0 1018.8,678.8 1019.6,700.7 1020.8,649.5 1021.8,691.1 1022.8,675.2 1023.8,652.3 1025.0,607.9 1025.8,672.9 1026.8,642.2 1027.8,680.5 1028.5,681.9 1029.8,681.0 1030.8,670.0 1031.8,664.4 1032.8,641.9 1033.8,682.1 1034.8,666.9 1035.8,661.8 1036.8,671.9 1037.8,667.5 1038.3,698.0 1039.8,660.1 1040.8,665.5 1041.8,632.2 1042.8,659.3 1043.8,677.0 1044.6,632.8 1045.7,660.5 1046.7,664.5 1047.7,691.9 1048.7,661.5 1049.7,678.6 1050.7,693.8 1051.7,667.7 1052.7,686.8 1053.7,655.9 1054.7,670.6 1055.3,704.2 1056.7,669.3 1057.7,685.7 1058.7,691.4 1059.7,657.2 1060.7,658.7 1061.7,676.0 1062.4,683.7 1063.7,676.2 1064.7,677.5 1065.7,664.1 1066.9,636.4 1067.7,644.0 1068.7,681.0 1069.7,644.3 1070.7,658.0 1071.3,704.2 1072.7,662.9 1073.7,683.1 1074.7,670.7 1076.7,641.0 1080.3,615.0 1082.9,588.0 1085.8,565.0 1092.4,340.0 1095.9,257.0 1099.9,156.6 1103.7,257.0 1105.8,345.0 1110.0,565.0 1110.6,667.0 1112.3,785.0 1113.8,995.0 1117.0,1103.0 1121.0,1179.0 1124.1,1103.0 1130.0,995.0 1133.3,879.0 1137.0,785.0 1140.9,695.0 1142.9,673.7 1143.9,688.7 1144.9,705.3 1145.9,680.1 1146.9,685.8 1147.9,699.7 1148.9,684.1 1149.9,659.2 1150.7,739.9 1151.9,714.9 1152.9,647.8 1153.9,678.9 1154.9,686.1 1155.9,694.9 1157.0,706.9 1157.9,675.0 1158.9,662.5 1159.9,681.0 1160.9,695.8 1161.9,661.8 1162.9,662.8 1164.1,643.5 1164.9,648.2 1165.9,675.0 1166.9,672.2 1167.9,686.3 1168.9,667.9 1169.9,665.0 1171.2,705.1 1171.9,678.2 1172.9,668.4 1173.9,679.1 1174.9,690.9 1175.9,697.8 1176.9,706.0 1177.9,666.0 1178.9,671.7 1180.1,722.1 1180.9,708.5 1181.9,666.4 1182.9,677.3 1183.9,686.0 1184.9,655.7 1185.9,684.6 1187.3,652.5 1187.9,655.7 1189.1,701.6 1189.9,695.4 1190.9,656.7 1191.9,688.8 1192.9,679.1 1193.9,683.2 1194.9,682.6 1195.9,696.3 1196.9,671.8 1198.0,656.0 1198.9,668.8 1199.8,687.0 1200.8,662.3 1201.8,673.5 1202.8,702.9 1203.8,682.2 1205.1,653.4 1205.8,656.6 1206.8,662.2 1207.8,677.9 1208.8,689.8 1209.8,681.6 1210.8,683.1 1211.4,725.6 1212.8,696.4 1213.8,668.5 1214.8,666.0 1215.8,689.0 1216.8,675.8 1217.8,670.4 1218.8,665.7 1219.8,670.8 1220.8,685.0 1221.8,680.6 1222.8,655.6 1223.8,681.8 1224.8,677.9 1225.8,659.0 1226.5,701.6 1227.8,670.5 1228.8,669.6 1229.8,687.7 1230.8,691.4 1231.9,692.7 1232.8,643.5 1233.8,660.9 1234.8,693.7 1235.8,666.8 1236.8,693.8 1237.8,664.2 1238.8,687.5 1239.8,700.5 1240.8,643.5 1241.8,667.3 1242.8,682.2 1243.8,672.6 1244.8,663.4 1245.8,708.4 1246.8,675.2 1247.8,647.6 1248.8,715.8 1249.8,646.2 1250.8,692.1 1251.8,664.4 1252.4,616.8 1253.8,693.7 1254.8,675.3 1255.8,651.1 1256.8,646.1 1257.8,692.0 1258.6,638.2 1259.8,659.8 1260.8,686.5 1261.8,680.6 1262.8,683.1 1263.8,641.2 1264.9,715.8 1265.8,687.3 1266.8,684.7 1267.8,687.2 1268.8,641.2 1269.8,676.1 1270.8,681.5 1272.0,638.2 1272.8,658.6 1273.8,668.8 1274.8,674.8 1275.8,688.6 1276.8,667.5 1277.8,693.1 1278.8,662.3 1279.8,679.3 1280.8,666.6 1281.8,677.7 1282.8,664.1 1283.8,649.9 1284.8,692.7 1285.8,680.1 1286.8,666.4 1287.8,678.7 1288.8,691.5 1289.8,660.1 1290.7,713.2 1291.8,684.8 1292.5,653.4 1293.8,671.3 1294.8,655.3 1295.8,696.9 1296.8,682.4 1297.8,677.5 1298.8,704.2 1299.8,681.7 1300.8,670.8 1301.8,661.3 1302.8,666.0 1303.8,668.4 1304.8,668.2 1305.7,736.3 1306.8,688.5 1307.8,657.5 1308.8,689.2 1309.8,662.6 1310.8,684.6 1311.7,701.2 1312.7,682.6 1313.7,667.8 1314.7,680.5 1315.7,682.2 1316.4,744.4 1317.7,670.3 1318.7,682.7 1319.7,672.6 1320.7,681.4 1321.7,691.8 1322.7,692.2 1323.5,639.1 1324.7,689.2 1325.7,675.1 1326.7,679.4 1327.7,675.2 1328.7,674.5 1329.7,676.5 1330.7,651.7 1331.7,673.9 1332.7,678.7 1333.7,663.3 1334.7,678.4 1335.7,686.9 1336.7,675.9 1337.7,711.7 1338.7,645.7 1339.6,731.0 1340.7,649.1 1341.7,693.9 1342.3,643.5 1343.7,645.3 1344.7,679.8 1345.7,685.9 1346.7,672.6 1347.7,686.0 1348.7,641.2 1349.7,690.4 1350.7,682.5 1351.7,676.6 1353.0,721.2 1353.7,686.0 1354.7,667.7 1355.7,678.8 1356.7,666.8 1357.7,638.7 1358.7,673.9 1359.7,677.4 1360.7,686.1 1361.7,659.8 1362.8,626.6 1363.7,683.4 1364.7,675.8 1365.7,693.3 1366.7,705.2 1367.7,658.7 1368.7,642.3 1369.7,686.7 1370.7,697.3 1371.7,687.4 1372.7,685.5 1373.7,662.5 1374.7,660.8 1375.7,686.3 1376.7,657.4 1377.7,642.8 1378.7,655.7 1379.7,710.4 1380.7,702.2 1381.7,660.3 1382.7,659.5 1383.7,674.7 1384.7,658.9 1385.7,691.7 1386.7,669.3 1387.7,652.9 1388.7,691.0 1389.7,660.5 1390.7,673.1 1391.7,669.1 1392.7,664.0 1393.7,674.0 1394.7,657.4 1395.7,638.8 1396.7,632.8 1397.7,647.7 1398.7,655.8 1399.7,667.5 1400.7,668.7 1401.5,621.2 1402.7,669.8 1403.7,655.2 1404.7,656.7 1405.7,634.2 1406.7,665.5 1407.7,676.1 1408.7,676.9 1409.7,666.6 1410.9,704.2 1411.8,644.4 1412.7,669.1 1413.7,680.8 1414.7,678.4 1415.7,672.5 1416.7,690.1 1418.1,645.3 1418.7,663.5 1419.7,656.3 1420.7,656.4 1421.7,694.0 1422.7,697.3 1423.6,669.4 1424.6,678.1 1425.6,687.8 1426.6,681.8 1427.6,688.1 1428.6,648.6 1429.6,658.5 1430.6,675.9 1431.6,691.6 1432.6,670.3 1433.6,654.9 1435.0,625.7 1435.6,658.1 1436.6,655.1 1437.7,706.9 1438.6,659.1 1439.6,669.6 1440.6,701.5 1441.6,688.7 1442.6,675.3 1443.6,660.4 1444.6,676.9 1445.6,696.5 1446.6,650.7 1447.6,691.0 1448.6,672.6 1449.6,679.4 1450.6,668.0 1451.6,678.2 1452.6,691.5 1453.6,648.7 1454.6,670.7 1455.6,675.6 1456.6,662.7 1457.6,667.0 1459.1,689.1 1459.6,687.1 1460.6,682.3 1461.6,677.6 1462.6,647.7 1463.6,694.9 1464.6,673.9 1465.6,672.3 1466.6,655.0 1467.6,672.2 1468.6,655.7 1469.6,674.5 1470.6,680.9 1471.6,608.8 1472.6,678.2 1473.6,660.2 1474.6,696.8 1475.6,663.5 1476.6,644.9 1477.6,671.0 1478.6,661.8 1479.6,657.9 1480.5,731.0 1481.6,678.8 1482.6,655.2 1483.6,671.9 1484.6,697.0 1485.6,685.1 1486.6,671.7 1487.6,676.2 1488.5,712.3 1489.6,673.5 1490.6,685.9 1491.6,672.8 1492.6,645.1 1493.6,673.9 1494.6,660.0 1495.6,684.7 1496.6,664.5 1497.4,649.8 1498.6,702.4 1499.6,657.8 1500.6,656.7 1501.6,653.6 1502.6,653.8 1503.6,653.9 1504.6,681.2 1505.6,665.3 1506.6,654.5 1507.6,654.7 1508.6,686.0 1509.6,664.0 1510.6,670.7 1511.7,652.5 1512.6,692.7 1513.6,692.0 1514.6,691.4 1515.6,679.6 1517.1,692.7 1517.6,689.9 1518.6,690.4 1519.6,672.4 1520.6,684.6 1521.6,681.7 1522.6,677.8 1523.6,668.9 1524.6,655.5 1526.0,634.6 1526.6,651.7 1527.6,694.7 1528.6,684.8 1529.6,656.8 1530.6,696.2 1531.6,690.1 1532.6,645.2 1533.6,697.6 1534.5,688.4 1535.5,698.6 1536.5,655.6 1537.5,683.7 1538.5,681.9 1539.5,678.3 1540.5,677.8 1541.5,692.0 1542.5,651.3 1543.5,655.4 1544.5,653.1 1545.5,666.6 1546.5,665.9 1547.5,681.6 1548.5,680.2 1549.5,676.6 1550.5,665.4 1551.5,669.3 1552.5,691.8 1553.5,689.0 1554.5,678.6 1555.5,672.0 1556.5,702.3 1557.2,645.3 1558.5,688.3 1559.5,696.7 1560.5,674.2 1561.5,691.9 1562.5,661.0 1563.5,695.3 1564.5,682.5 1565.5,654.1 1566.5,690.3 1567.9,634.6 1568.5,700.4 1569.5,669.2 1570.5,677.6 1571.5,684.9 1572.3,719.4 1573.5,684.7 1574.5,671.9 1575.9,619.5 1576.5,681.1 1577.5,684.6 1578.5,637.4 1579.5,700.2 1580.5,682.3 1581.5,653.5 1583.9,739.9 1583.9,652.5 1584.5,699.7 1585.5,665.5 1586.5,707.7 1587.5,680.6 1588.5,721.6 1589.5,681.1 1590.5,694.5"/>
<line id="zero" x1="135.5" y1="671.3" x2="1596" y2="665.3" stroke="#000" stroke-width="4.2"/>
</g>
<!--/CURVES-->
<!-- frame -->
<g id="frame" shape-rendering="crispEdges">
<rect x="135" y="41" width="3" height="1264" fill="#000" fill-opacity="0.38"/>
<rect x="141" y="44" width="3" height="1255" fill="#000" fill-opacity="0.17"/>
<rect x="1591" y="41" width="3" height="1264" fill="#000" fill-opacity="0.53"/>
<rect x="138" y="38" width="1456" height="3" fill="#000" fill-opacity="0.06"/>
<rect x="141" y="44" width="1447" height="3" fill="#000" fill-opacity="0.6"/>
<rect x="141" y="1296" width="1447" height="3" fill="#000" fill-opacity="0.2"/>
<rect x="138" y="1302" width="1453" height="3" fill="#000" fill-opacity="0.44"/>
<path d="M139.5 41V1302M1589.5 41V1302M138 42.5H1591M138 1300.5H1591" stroke="#000" stroke-width="3" fill="none"/>
<rect x="141" y="1275" width="3" height="24" fill="#000" fill-opacity="0.4"/>
<rect x="1585" y="1275" width="3" height="24" fill="#000" fill-opacity="0.4"/>
<g id="ticks" stroke="#000" stroke-width="4.5" fill="none" shape-rendering="auto">
<path d="M429.7 1300V1275.3M719.9 1300V1275.3M1010.1 1300V1275.3M1300.3 1300V1275.3"/>
<path d="M284.9 1300V1287.3M574.8 1300V1287.3M865 1300V1287.3M1155.2 1300V1287.3M1445.4 1300V1287.3"/>
</g>
</g>
<!-- tick labels -->
<g id="ticklabels">
<text class="tk" transform="translate(139.4 1388.6) scale(0.918 1)">3460</text>
<text class="tk" transform="translate(429 1388.6) scale(0.918 1)">3480</text>
<text class="tk" transform="translate(718.5 1388.6) scale(0.918 1)">3500</text>
<text class="tk" transform="translate(1008 1388.6) scale(0.918 1)">3520</text>
<text class="tk" transform="translate(1298 1388.6) scale(0.918 1)">3540</text>
<text class="tk" transform="translate(1589 1388.6) scale(0.918 1)">3560</text>
</g>
<!-- axis titles -->
<text id="xlabel" font-size="79" text-anchor="middle" transform="translate(865.5 1515) scale(0.912 1)">Magnetic Field (Gauss)</text>
<text id="ylabel" font-size="76" text-anchor="middle" transform="translate(83 623) rotate(-90) scale(1.021 0.936)">Intensity (a.u.)</text>
<!-- panel tag -->
<g id="tag" class="cjk" style="text-spacing-trim:space-all"><text class="cjk" font-size="58.4" transform="translate(1391.8 152.8) scale(1.19 1)">（</text><text class="cjk" font-size="68" transform="translate(1467 155) scale(0.817 1)">b</text><text class="cjk" font-size="58.4" transform="translate(1498.1 152.8) scale(1.19 1)">）</text></g>
<!-- club markers -->
<g id="clubs">
<text class="sym" font-size="54" text-anchor="middle" transform="translate(597 157) scale(1 1.02)">♣</text>
<text class="sym" font-size="54" text-anchor="middle" transform="translate(844.6 138.4) scale(1.05 1.0)">♣</text>
<text class="sym" font-size="54" text-anchor="middle" transform="translate(1098.4 136.6) scale(1 1.0)">♣</text>
</g>
<!-- legend -->
<g id="legend">
<line x1="1241" y1="999.3" x2="1380.5" y2="999.3" stroke="#000" stroke-width="4.4"/>
<line x1="1241" y1="1081.7" x2="1380.5" y2="1081.7" stroke="#f00" stroke-width="4.4"/>
<text font-size="67.5" transform="translate(1393.6 1022.5) scale(0.9 1)">10min</text>
<text font-size="67.5" transform="translate(1394 1104) scale(0.9 1)">40min</text>
</g>
<!-- species label -->
<g id="species"><text class="sym" font-size="54" text-anchor="middle" transform="translate(189 1077) scale(1 1.02)">♣</text><text font-size="70" transform="translate(227.5 1077) scale(0.885 1)" xml:space="preserve"> <tspan x="0" y="0">TEMP-</tspan><tspan x="222.3" y="-27" font-size="48">1</tspan><tspan x="246.5" y="0">O</tspan><tspan x="300" y="17.5" font-size="48">2</tspan></text></g>
</svg>
</body>
</html>
